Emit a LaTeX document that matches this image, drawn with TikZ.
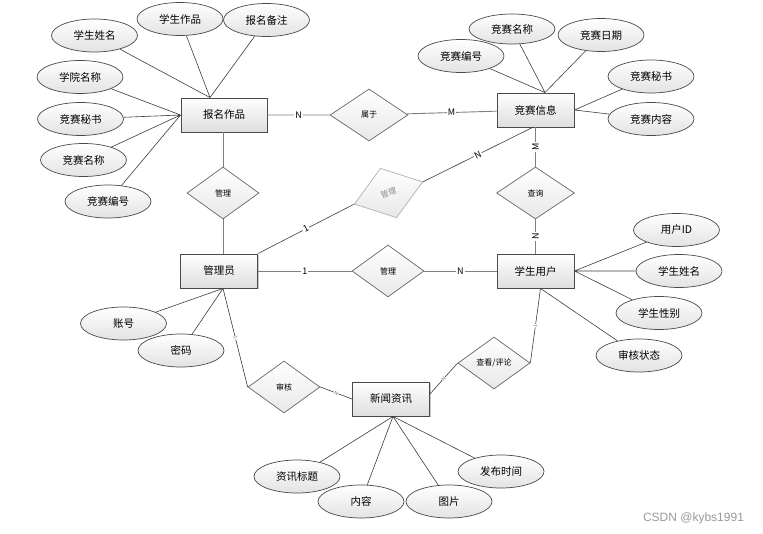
\documentclass[tikz,border=0pt]{standalone}
\usepackage{fontspec}
\setmainfont{Noto Sans CJK SC}
\newfontfamily\wmfont{Liberation Sans}
\usepackage{tikz}
\usetikzlibrary{calc,shapes.geometric,shadows}
\definecolor{edgex}{HTML}{4A4A4A}
\definecolor{linex}{HTML}{3C3C3C}
\definecolor{relx}{HTML}{808080}
\definecolor{fadex}{HTML}{B0B0B0}
\tikzset{
  ent/.style={draw=edgex,line width=0.9pt,top color=white,bottom color=black!13,minimum width=77pt,minimum height=34pt,inner sep=2pt,font=\fontsize{10.5}{12}\selectfont,drop shadow={shadow xshift=1.3pt,shadow yshift=-1.3pt,fill=black!30,opacity=0.7}},
  attr/.style={ellipse,draw=edgex,line width=0.7pt,top color=white,bottom color=black!11,minimum width=86pt,minimum height=33pt,inner sep=0pt,font=\fontsize{10.5}{12}\selectfont},
  rel/.style={diamond,draw=black!60,line width=0.7pt,top color=white,bottom color=black!9,minimum width=72pt,minimum height=52pt,inner sep=0pt,font=\fontsize{8}{9}\selectfont},
  ln/.style={draw=linex,line width=0.6pt},
  rl/.style={draw=relx,line width=0.9pt},
  card/.style={fill=white,inner sep=1pt,font=\fontsize{9}{9}\selectfont},
  cardsm/.style={fill=white,inner sep=0.3pt,text=black!55,font=\fontsize{5}{5}\selectfont,sloped}
}
\begin{document}
\begin{tikzpicture}[x=1pt,y=-1pt]
\useasboundingbox (0,0) rectangle (763,533);
% entities
\node[ent,minimum width=86pt] (bmzp) at (224,115) {报名作品};
\node[ent] (jsxx) at (535.5,110) {竞赛信息};
\node[ent] (gly) at (219,271) {管理员};
\node[ent] (xsyh) at (535.5,271) {学生用户};
\node[ent] (xwzx) at (391,399) {新闻资讯};
% relations
\node[rel,minimum width=78pt] (shuyu) at (369,115) {属于};
\node[rel] (gl1) at (223,193) {管理};
\node[rel,rotate=18,draw=fadex,text=black!45] (gl2) at (388.5,193) {管理};
\node[rel,minimum width=78pt] (cx) at (535.5,193) {查询};
\node[rel] (gl3) at (388,271) {管理};
\node[rel] (sh) at (284,387) {审核};
\node[rel] (ckpl) at (494,363) {查看/评论};
% attributes of 报名作品
\node[attr] (bmxm) at (94.5,35.5) {学生姓名};
\node[attr] (bmzpa) at (180,19) {学生作品};
\node[attr] (bmbz) at (266.5,20) {报名备注};
\node[attr] (bmxy) at (80,77) {学院名称};
\node[attr] (bmms) at (80.5,119) {竞赛秘书};
\node[attr] (bmmc) at (83.5,160) {竞赛名称};
\node[attr] (bmbh) at (108,201.5) {竞赛编号};
% attributes of 竞赛信息
\node[attr] (jsbh) at (461,56) {竞赛编号};
\node[attr,minimum height=30pt] (jsmc) at (512,29) {竞赛名称};
\node[attr] (jsrq) at (601,35) {竞赛日期};
\node[attr] (jsms) at (651,76.5) {竞赛秘书};
\node[attr] (jsnr) at (651,119) {竞赛内容};
% attributes of 学生用户
\node[attr] (yhid) at (676.5,230) {用户ID};
\node[attr] (yhxm) at (679,271) {学生姓名};
\node[attr] (yhxb) at (659,313) {学生性别};
\node[attr] (yhzt) at (639,355.5) {审核状态};
% attributes of 管理员
\node[attr] (zh) at (123.5,323.5) {账号};
\node[attr] (mm) at (181,350.5) {密码};
% attributes of 新闻资讯
\node[attr] (xwbt) at (297,476.5) {资讯标题};
\node[attr] (xwnr) at (361,501.5) {内容};
\node[attr] (xwtp) at (449,501.5) {图片};
\node[attr] (xwsj) at (501,471.5) {发布时间};
% join points
\coordinate (bmT) at ($(bmzp.north)+(-14,0)$);
\coordinate (jsT) at ($(jsxx.north)+(9.5,0)$);
\coordinate (glB) at ($(gly.south)+(4,0)$);
\coordinate (yhB) at ($(xsyh.south)+(5,0)$);
\coordinate (xwB) at ($(xwzx.south)+(2,0)$);
% attribute lines
\draw[ln] (bmxm)--(bmT) (bmzpa)--(bmT) (bmbz)--(bmT);
\draw[ln] (bmxy)--(bmzp.west) (bmms)--(bmzp.west) (bmmc)--(bmzp.west) (bmbh)--(bmzp.west);
\draw[ln] (jsbh)--(jsT) (jsmc)--(jsT) (jsrq)--(jsT);
\draw[ln] (jsms)--(jsxx.east) (jsnr)--(jsxx.east);
\draw[ln] (yhid)--(xsyh.east) (yhxm)--(xsyh.east) (yhxb)--(xsyh.east) (yhzt)--(yhB);
\draw[ln] (zh)--(glB) (mm)--(glB);
\draw[ln] (xwbt)--(xwB) (xwnr)--(xwB) (xwtp)--(xwB) (xwsj)--(xwB);
% relation lines
\draw[rl] (bmzp) -- node[card]{N} (shuyu) -- node[card]{M} (jsxx);
\draw[rl] (gly) -- node[card]{1} (gl3) -- node[card]{N} (xsyh);
\draw[rl] (jsxx) -- node[card,rotate=90]{M} (cx) -- node[card,rotate=90]{N} (xsyh);
\draw[rl] (gl1.north) -- (gl1.north |- bmzp.south) (gl1.south) -- (gl1.south |- gly.north);
\draw[ln] (gly.north east) -- node[card,sloped]{1} (gl2.west);
\draw[ln] (gl2.east) -- node[card,sloped]{N} ($(jsxx.south)+(-3,0)$);
\draw[ln] (glB) -- node[cardsm]{1} (sh.west);
\draw[ln] (sh.east) -- node[cardsm]{N} (xwzx.west);
\draw[ln] ($(xwzx.east)+(0,-5)$) -- node[cardsm]{N} (ckpl.west);
\draw[ln] (ckpl.east) -- node[cardsm]{1} (yhB);
% watermark
\node[text=black!40,font=\wmfont\fontsize{12}{12}\selectfont] (wm) at (693.5,518) {CSDN @kybs1991};
\end{tikzpicture}
\end{document}
